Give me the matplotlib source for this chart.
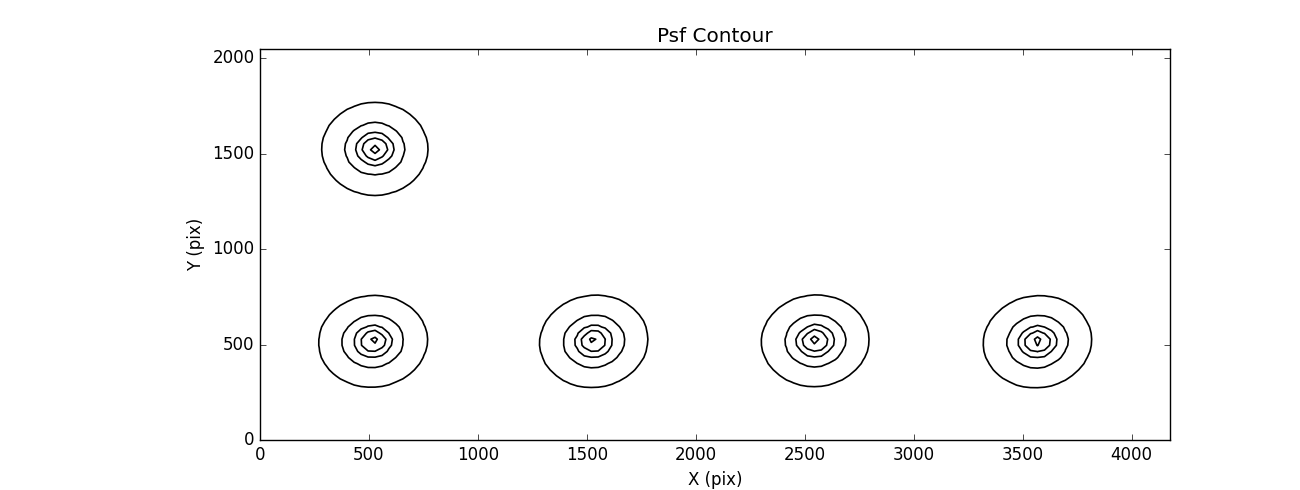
import numpy as np
import matplotlib
matplotlib.use("Agg")
import matplotlib.pyplot as plt

plt.style.use("classic")

# star (PSF) centres in detector pixels
star_x = [527, 518, 1532, 2548, 3568]
star_y = [1525, 517, 517, 520, 515]
# Moffat core widths along major / minor axis, position angle (deg), beta
alpha_major = [30, 31, 31, 30.5, 31]
alpha_minor = [30, 29.5, 29.5, 29.5, 29.5]
pos_angle = [0, 20, 30, 20, 30]
beta = 2.0
# contour levels (fraction of peak)
levels = [0.000232, 0.00221, 0.0139, 0.0624, 0.48]

xmax, ymax = 4176, 2048
step = 32
gx = np.arange(step / 2, xmax, step)
gy = np.arange(step / 2, ymax, step)
X, Y = np.meshgrid(gx, gy)
Z = np.zeros_like(X)
for xc, yc, a, b, th in zip(star_x, star_y, alpha_major, alpha_minor, pos_angle):
    t = np.deg2rad(th)
    dx, dy = X - xc, Y - yc
    u = dx * np.cos(t) + dy * np.sin(t)
    v = -dx * np.sin(t) + dy * np.cos(t)
    r2 = (u / a) ** 2 + (v / b) ** 2
    Z += (1 + r2) ** (-beta)

fig = plt.figure(figsize=(13, 4.9), dpi=100, facecolor="white")
ax = fig.add_axes([0.2, 0.102, 0.7, 0.798])
ax.contour(X, Y, Z, levels=levels, colors="k", linewidths=1.2)
ax.set_xlim(0, xmax)
ax.set_ylim(0, ymax)
ax.set_xticks(np.arange(0, 4001, 500))
ax.set_yticks(np.arange(0, 2001, 500))
ax.set_title("Psf Contour")
ax.set_xlabel("X (pix)")
ax.set_ylabel("Y (pix)")
fig.savefig("out.png", dpi=100, facecolor="white")
